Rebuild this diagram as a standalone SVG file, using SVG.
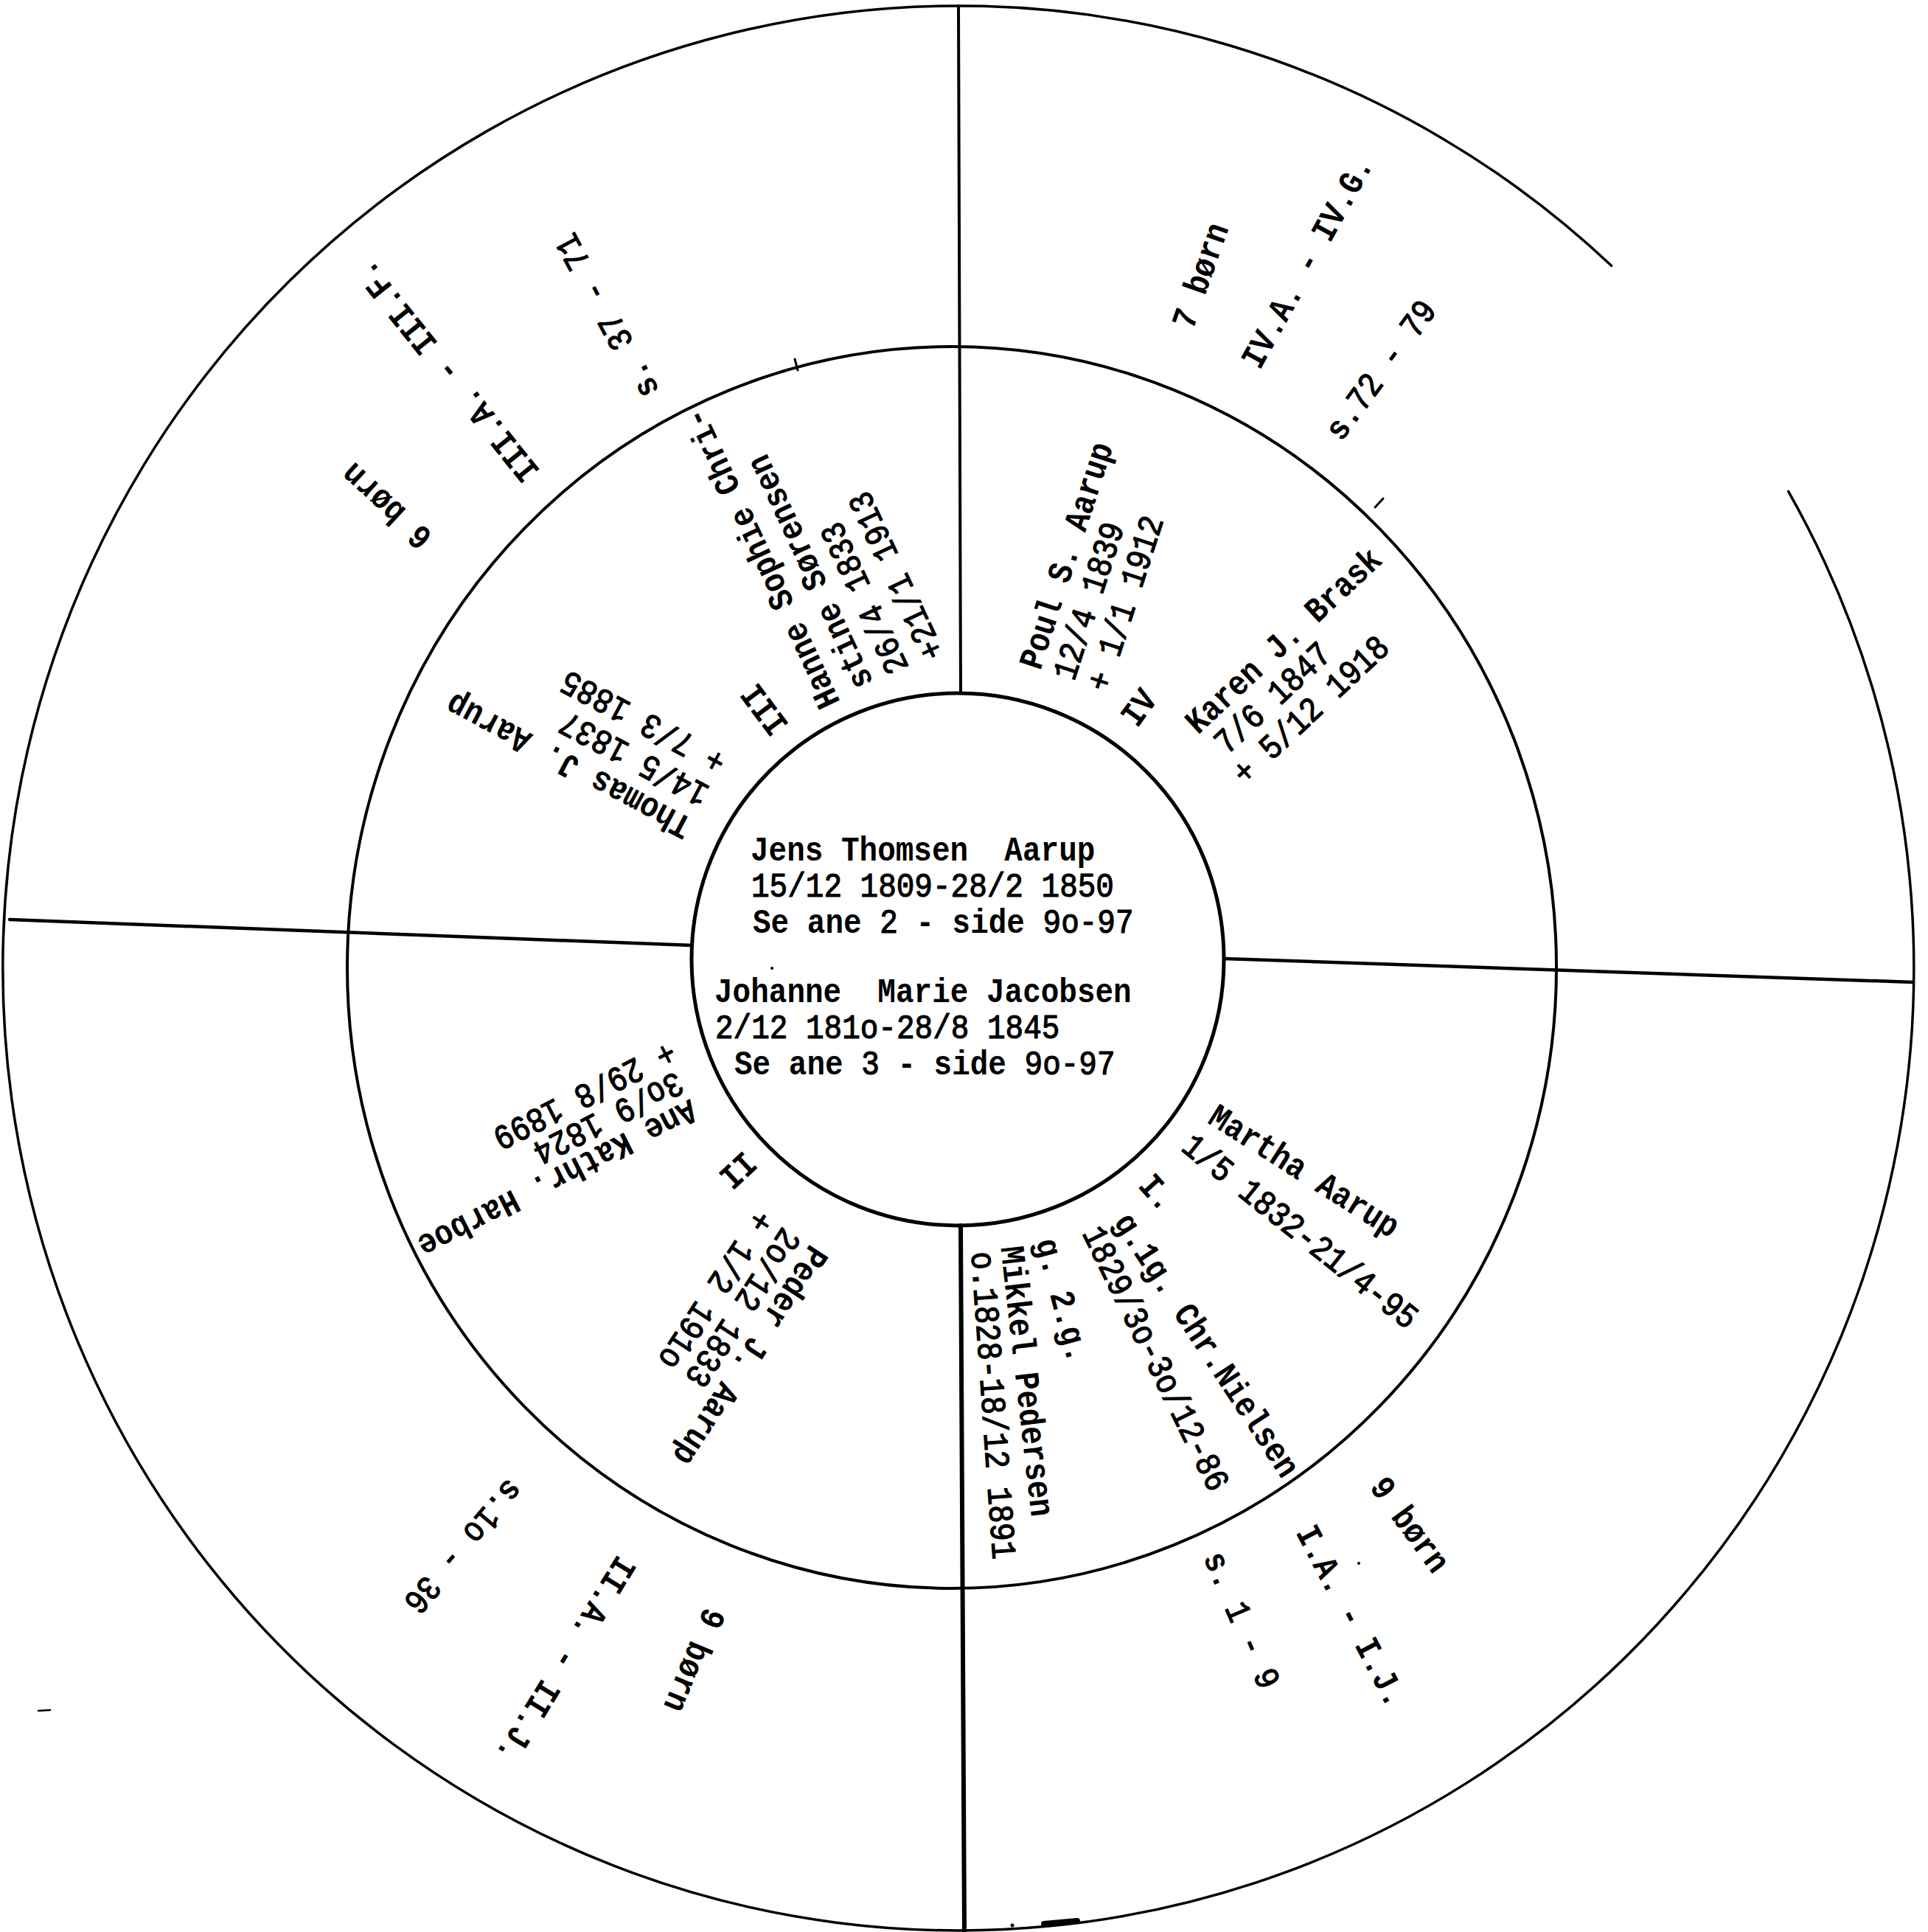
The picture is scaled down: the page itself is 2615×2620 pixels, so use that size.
<svg xmlns="http://www.w3.org/2000/svg" width="2615" height="2620" viewBox="0 0 2615 2620">
<style>
.ring{fill:none;stroke:#000;stroke-linecap:round}
.div{fill:none;stroke:#000;stroke-linecap:round}
.t{font-family:"Liberation Mono","DejaVu Sans Mono",monospace;font-size:41px;fill:#000;white-space:pre}
.b{font-weight:bold}
.r{font-weight:normal;stroke:#000;stroke-width:1.1}
.m{text-anchor:middle}
</style>
<rect width="2615" height="2620" fill="#fff"/>
<g id="rings">
<path class="ring" stroke-width="3.5" d="M 2425.6 666.4 A 1296 1305 0 1 1 2185.6 360.3"/>
<ellipse class="ring" stroke-width="4" cx="1291" cy="1312" rx="820" ry="842"/>
<circle class="ring" stroke-width="5" cx="1299" cy="1301" r="361"/>
</g>
<g id="connectors">
<line class="div" stroke-width="4" x1="1300" y1="8" x2="1303" y2="940"/>
<line class="div" stroke-width="4.5" x1="13" y1="1247" x2="939" y2="1282"/>
<line class="div" stroke-width="4.5" x1="1660" y1="1300" x2="2595" y2="1332"/>
<line class="div" stroke-width="6" x1="1303" y1="1662" x2="1308" y2="2620"/>
</g>
<g id="marks">
<line class="div" stroke-width="3" x1="1082" y1="502" x2="1078" y2="487"/>
<line class="div" stroke-width="3" x1="1865" y1="688" x2="1876" y2="676"/>
<line class="div" stroke-width="8" x1="1416" y1="2609" x2="1461" y2="2605"/>
<circle cx="1373" cy="2611" r="2.5" fill="#000"/>
<circle cx="1047" cy="1313" r="2" fill="#000"/>
<circle cx="1843" cy="2120" r="2" fill="#000"/>
<line class="div" stroke-width="2.5" x1="52" y1="2320" x2="68" y2="2319"/>
</g>
<g id="center-couple">
<text class="t b" transform="translate(1018,1167) scale(1,1.12)">Jens Thomsen&#160; Aarup</text>
<text class="t r" transform="translate(1019,1216) scale(1,1.12)">15/12 1809-28/2 1850</text>
<text class="t" transform="translate(1021,1265) scale(1,1.12)"><tspan class="b">Se ane </tspan><tspan class="r">2</tspan><tspan class="b"> - side </tspan><tspan class="r">9o-97</tspan></text>
<text class="t b" transform="translate(969,1359) scale(1,1.12)">Johanne&#160; Marie Jacobsen</text>
<text class="t r" transform="translate(970,1408) scale(1,1.12)">2/12 181o-28/8 1845</text>
<text class="t" transform="translate(996,1457) scale(1,1.12)"><tspan class="b">Se ane </tspan><tspan class="r">3</tspan><tspan class="b"> - side </tspan><tspan class="r">9o-97</tspan></text>
</g>
<g id="IV-Poul" transform="translate(1411,910) rotate(-72)">
<text class="t b" transform="scale(1,1.15)">Poul S. Aarup</text>
<text class="t r" transform="translate(0,48) scale(1,1.15)">12/4 1839</text>
<text class="t r" transform="translate(0,96) scale(1,1.15)">+ 1/1 1912</text>
</g>
<g id="IV-label">
<text class="t b m" transform="translate(1548,962) rotate(-54) translate(0,11) scale(1,1.15)">IV</text>
</g>
<g id="IV-Karen" transform="translate(1625,997) rotate(-43)">
<text class="t b" transform="scale(1,1.15)">Karen J. Brask</text>
<text class="t r" transform="translate(10,47) scale(1,1.15)">7/6 1847</text>
<text class="t r" transform="translate(0,94) scale(1,1.15)">+ 5/12 1918</text>
</g>
<g id="III-Hanne" transform="translate(1140,952) rotate(-115)">
<text class="t b" transform="scale(1,1.15)">Hanne Sophie Chri-</text>
<text class="t b" transform="translate(5,52) scale(1,1.15)">stine Sørensen</text>
<text class="t r" transform="translate(3,104) scale(1,1.15)">26/4 1833</text>
<text class="t r" transform="translate(0,156) scale(1,1.15)">+21/1 1913</text>
</g>
<g id="III-label">
<text class="t b m" transform="translate(1040,960) rotate(-127) translate(0,11) scale(1,1.15)">III</text>
</g>
<g id="III-Thomas" transform="translate(941,1112) rotate(-152)">
<text class="t b" transform="scale(1,1.15)">Thomas J. Aarup</text>
<text class="t r" transform="translate(0,50) scale(1,1.15)">14/5 1837</text>
<text class="t r" transform="translate(0,100) scale(1,1.15)">+ 7/3 1885</text>
</g>
<g id="II-Ane" transform="translate(936,1490) rotate(153)">
<text class="t b" transform="scale(1,1.15)">Ane Kathr. Harboe</text>
<text class="t r" transform="translate(0,42) scale(1,1.15)">3o/9 1824</text>
<text class="t r" transform="translate(-10,84) scale(1,1.15)">+ 29/8 1899</text>
</g>
<g id="II-label">
<text class="t b m" transform="translate(998,1584) rotate(137) translate(0,11) scale(1,1.15)">II</text>
</g>
<g id="II-Peder" transform="translate(1099,1686) rotate(123)">
<text class="t b" transform="scale(1,1.15)">Peder J. Aarup</text>
<text class="t r" transform="translate(0,44) scale(1,1.15)">2o/12 1833</text>
<text class="t r" transform="translate(0,88) scale(1,1.15)">+ 1/2 191o</text>
</g>
<g id="I-Martha">
<text class="t b m" transform="translate(1767,1591.5) rotate(32.3) translate(0,11) scale(1,1.15)">Martha Aarup</text>
<text class="t r m" transform="translate(1761,1673) rotate(38.5) translate(0,11) scale(1,1.15)">1/5 1832-21/4-95</text>
<text class="t b m" transform="translate(1567,1620) rotate(48) translate(0,11) scale(1,1.15)">I.</text>
<text class="t b m" transform="translate(1633.5,1826) rotate(56.7) translate(0,11) scale(1,1.15)">g.1g. Chr.Nielsen</text>
<text class="t r m" transform="translate(1564,1844) rotate(63.8) translate(0,11) scale(1,1.15)">1829/3o-3o/12-86</text>
<text class="t b m" transform="translate(1437.5,1764) rotate(75) translate(0,11) scale(1,1.15)">g. 2.g.</text>
<text class="t b m" transform="translate(1389,1873.5) rotate(83.5) translate(0,11) scale(1,1.15)">Mikkel Pedersen</text>
<text class="t r m" transform="translate(1343,1906) rotate(86) translate(0,11) scale(1,1.15)">o.1828-18/12 1891</text>
</g>
<g id="I-outer">
<text class="t b m" transform="translate(1909,2070) rotate(53.7) translate(0,11) scale(1,1.15)">9 børn</text>
<text class="t b m" transform="translate(1829.5,2193) rotate(62.4) translate(0,11) scale(1,1.15)">I.A. - I.J.</text>
<text class="t m" transform="translate(1680.5,2198.5) rotate(66.9) translate(0,11) scale(1,1.15)"><tspan class="b">s.</tspan><tspan class="r"> 1 - 9</tspan></text>
</g>
<g id="IV-outer">
<text class="t b m" transform="translate(1632,375) rotate(-70.7) translate(0,11) scale(1,1.15)">7 børn</text>
<text class="t b m" transform="translate(1776.5,357.5) rotate(-61.1) translate(0,11) scale(1,1.15)">IV.A. - IV.G.</text>
<text class="t m" transform="translate(1876,504) rotate(-53.9) translate(0,11) scale(1,1.15)"><tspan class="b">s.</tspan><tspan class="r">72 - 79</tspan></text>
</g>
<g id="III-outer">
<text class="t b m" transform="translate(609.5,501.5) rotate(-128.7) translate(0,11) scale(1,1.15)">III.A. - III.F.</text>
<text class="t m" transform="translate(827,426.5) rotate(-118.3) translate(0,11) scale(1,1.15)"><tspan class="b">s.</tspan><tspan class="r"> 37 - 71</tspan></text>
<text class="t b m" transform="translate(527,683.5) rotate(-137.3) translate(0,11) scale(1,1.15)">6 børn</text>
</g>
<g id="II-outer">
<text class="t m" transform="translate(626,2094.5) rotate(130.4) translate(0,11) scale(1,1.15)"><tspan class="b">s.</tspan><tspan class="r">1o - 36</tspan></text>
<text class="t b m" transform="translate(764,2249) rotate(121.4) translate(0,11) scale(1,1.15)">II.A. - II.J.</text>
<text class="t b m" transform="translate(938,2250) rotate(112.6) translate(0,11) scale(1,1.15)">9 børn</text>
</g>
</svg>
